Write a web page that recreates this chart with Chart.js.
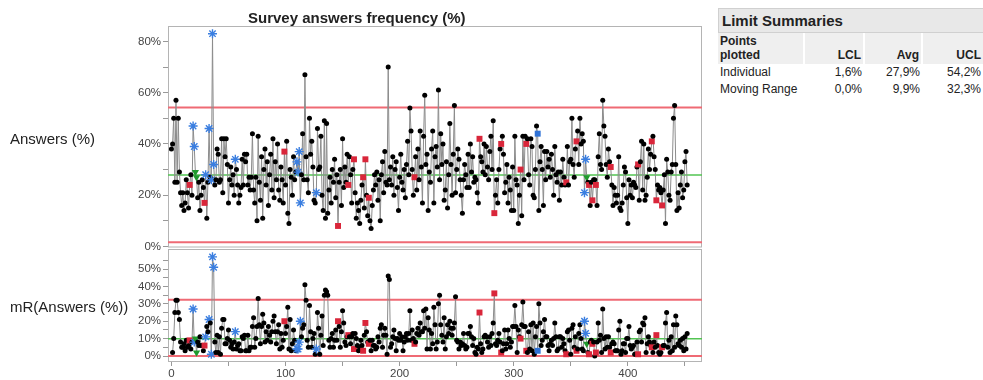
<!DOCTYPE html>
<html lang='en'>
  <head>
    <title>Survey answers frequency (%)</title>
    <meta charset='UTF-8'>
    <script src='https://cdn.jsdelivr.net/npm/chart.js@4.4.0/dist/chart.umd.min.js'></script>
    <style>
      body { margin: 0; background: #fff; font-family: 'Liberation Sans', Arial, sans-serif; color: #222; }
      #wrap { position: relative; width: 983px; height: 380px; overflow: hidden; }
      #grafico { position: absolute; left: 0; top: 0; }
      .eixo { position: absolute; left: 10px; font-size: 15px; line-height: 18px; }
      #titulo { position: absolute; left: 248px; top: 9px; font-size: 15px; font-weight: bold; }
      #resumo { position: absolute; left: 718px; top: 8px; width: 265px; }
      #resumo .cab { height: 23px; line-height: 23px; padding-left: 3px; background: #e8e8e8; border: 1px solid #d0d0d0; border-right: none; font-size: 15px; font-weight: bold; }
      #resumo table { border-collapse: collapse; table-layout: fixed; width: 265px; font-size: 12px; }
      #resumo th { background: #efefef; font-weight: bold; text-align: right; vertical-align: bottom; height: 29px; padding: 0 2px 2px 2px; border-left: 2px solid #fff; line-height: 14px; }
      #resumo th:first-child { text-align: left; border-left: none; }
      #resumo td { text-align: right; padding: 0 2px; height: 17px; line-height: 17px; }
      #resumo td:first-child { text-align: left; }
    </style>
  </head>
  <body>
    <div id='wrap'>
      <canvas id='grafico' width='710' height='380'></canvas>
      <div id='titulo'>Survey answers frequency (%)</div>
      <div class='eixo' style='top:130px'>Answers (%)</div>
      <div class='eixo' style='top:298px'>mR(Answers (%))</div>
      <div id='resumo'>
        <div class='cab'>Limit Summaries</div>
        <table>
          <colgroup><col style='width:86px'><col style='width:60px'><col style='width:58px'><col style='width:61px'></colgroup>
          <tr><th>Points<br>plotted</th><th>LCL</th><th>Avg</th><th>UCL</th></tr>
          <tr id='linhaInd'><td>Individual</td></tr>
          <tr id='linhaMR'><td>Moving Range</td></tr>
        </table>
      </div>
    </div>
    <script>
      // valores (uma linha = 10 pontos)
      const answers = [
        38, 40, 50, 25, 57, 25, 50, 29, 21, 16,
        21, 14, 17, 26, 21, 15, 24, 28, 20, 47,
        39, 29, 27, 19, 25, 14, 20, 26, 23, 17,
        28, 11, 25, 46, 27, 26, 83, 32, 24, 26,
        38, 36, 25, 26, 42, 21, 42, 35, 42, 32,
        17, 26, 31, 24, 28, 20, 34, 30, 24, 17,
        20, 23, 34, 24, 36, 33, 36, 24, 27, 22,
        27, 44, 22, 17, 27, 10, 43, 25, 18, 35,
        11, 30, 38, 24, 33, 16, 28, 36, 22, 42,
        19, 33, 26, 40, 22, 18, 31, 26, 17, 37,
        24, 41, 13, 9, 30, 27, 20, 35, 26, 29,
        33, 29, 37, 17, 28, 44, 26, 67, 35, 26,
        21, 50, 36, 41, 31, 18, 17, 21, 46, 30,
        31, 43, 20, 14, 49, 11, 48, 13, 22, 27,
        17, 30, 25, 34, 19, 28, 8, 25, 30, 16,
        42, 23, 31, 25, 36, 24, 35, 28, 17, 30,
        34, 21, 11, 17, 14, 9, 18, 24, 27, 15,
        34, 20, 12, 19, 10, 7, 16, 22, 28, 24,
        29, 18, 26, 10, 28, 33, 21, 37, 25, 24,
        70, 26, 31, 24, 35, 20, 30, 33, 23, 14,
        27, 36, 25, 22, 30, 19, 32, 41, 28, 54,
        45, 30, 20, 27, 35, 22, 38, 26, 45, 31,
        17, 43, 59, 32, 36, 14, 29, 25, 38, 45,
        17, 35, 39, 31, 61, 26, 44, 32, 40, 18,
        22, 33, 15, 28, 48, 32, 20, 36, 55, 21,
        30, 38, 34, 26, 20, 13, 26, 32, 28, 23,
        36, 23, 40, 29, 35, 25, 27, 26, 21, 17,
        42, 35, 33, 29, 40, 28, 39, 31, 26, 37,
        43, 30, 49, 13, 20, 26, 17, 30, 38, 40,
        43, 36, 21, 25, 32, 17, 27, 22, 14, 31,
        14, 43, 26, 24, 9, 20, 30, 12, 43, 26,
        43, 40, 42, 28, 24, 42, 39, 20, 19, 30,
        47, 44, 14, 33, 39, 30, 16, 37, 26, 37,
        31, 34, 27, 36, 30, 20, 39, 28, 25, 29,
        18, 29, 24, 34, 27, 24, 25, 39, 24, 33,
        34, 50, 32, 27, 38, 41, 45, 32, 50, 40,
        44, 41, 21, 34, 27, 25, 24, 16, 25, 18,
        26, 26, 24, 16, 35, 44, 32, 30, 57, 47,
        43, 32, 27, 38, 33, 31, 24, 16, 23, 20,
        17, 20, 35, 15, 14, 17, 24, 31, 29, 19,
        9, 26, 20, 24, 19, 25, 24, 23, 31, 32,
        18, 33, 41, 22, 40, 18, 20, 27, 38, 30,
        36, 41, 43, 35, 30, 18, 24, 22, 23, 21,
        16, 22, 28, 9, 34, 29, 20, 18, 29, 32,
        50, 55, 32, 14, 21, 15, 24, 29, 19, 22,
        33, 37, 24
      ];

      const movingRange = [
        null, 2, 10, 25, 32, 32, 25, 21, 8, 5,
        5, 7, 3, 9, 5, 6, 9, 4, 8, 27,
        8, 10, 2, 8, 6, 11, 6, 6, 3, 6,
        11, 17, 14, 21, 19, 1, 57, 51, 8, 2,
        12, 2, 11, 1, 16, 21, 21, 7, 7, 10,
        15, 9, 5, 7, 4, 8, 14, 4, 6, 7,
        3, 3, 11, 10, 12, 3, 3, 12, 3, 5,
        5, 17, 22, 5, 10, 17, 33, 18, 7, 17,
        24, 19, 8, 14, 9, 17, 12, 8, 14, 20,
        23, 14, 7, 14, 18, 4, 13, 5, 9, 20,
        13, 17, 28, 4, 21, 3, 7, 15, 9, 3,
        4, 4, 8, 20, 11, 16, 18, 41, 32, 9,
        5, 29, 14, 5, 10, 13, 1, 4, 25, 16,
        1, 12, 23, 6, 35, 38, 37, 35, 9, 5,
        10, 13, 5, 9, 15, 9, 20, 17, 5, 14,
        26, 19, 8, 6, 11, 12, 11, 7, 11, 13,
        4, 13, 10, 6, 3, 5, 9, 6, 3, 12,
        19, 14, 8, 7, 9, 3, 9, 6, 6, 4,
        5, 11, 8, 16, 18, 5, 12, 16, 12, 1,
        46, 44, 5, 7, 11, 15, 10, 3, 10, 9,
        13, 9, 11, 3, 8, 11, 13, 9, 13, 26,
        9, 15, 10, 7, 8, 13, 16, 12, 19, 14,
        14, 26, 16, 27, 4, 22, 15, 4, 13, 7,
        28, 18, 4, 8, 30, 35, 18, 12, 8, 22,
        4, 11, 18, 13, 20, 16, 12, 16, 19, 34,
        9, 8, 4, 8, 6, 7, 13, 6, 4, 5,
        13, 13, 17, 11, 6, 10, 2, 1, 5, 4,
        25, 7, 2, 4, 11, 12, 11, 8, 5, 11,
        6, 13, 19, 36, 7, 6, 9, 13, 8, 2,
        3, 7, 15, 4, 7, 15, 10, 5, 8, 17,
        17, 29, 17, 2, 15, 11, 10, 18, 31, 17,
        17, 3, 2, 14, 4, 18, 3, 19, 1, 11,
        17, 3, 30, 19, 6, 9, 14, 21, 11, 11,
        6, 3, 7, 9, 6, 10, 19, 11, 3, 4,
        11, 11, 5, 10, 7, 3, 1, 14, 15, 9,
        1, 16, 18, 5, 11, 3, 4, 13, 18, 10,
        4, 3, 20, 13, 7, 2, 1, 8, 9, 7,
        8, 0, 2, 8, 19, 9, 12, 2, 27, 10,
        4, 11, 5, 11, 5, 2, 7, 8, 7, 3,
        3, 3, 15, 20, 1, 3, 7, 7, 2, 10,
        10, 17, 6, 4, 5, 6, 1, 1, 8, 1,
        14, 15, 8, 19, 18, 22, 2, 7, 11, 8,
        6, 5, 2, 8, 5, 12, 6, 2, 1, 2,
        5, 6, 6, 19, 25, 5, 9, 2, 11, 3,
        18, 5, 23, 18, 7, 6, 9, 5, 10, 3,
        11, 4, 13
      ];

      const indivLimits = [1.6, 27.9, 54.2];  // LCL, Avg, UCL
      const mrLimits    = [0.0, 9.9, 32.3];

      // linhas marcadas (row states)
      const blueStarRows      = [19, 20, 30, 33, 35, 36, 37, 56, 110, 111, 112, 113, 127, 362, 363];
      const redSquareRows     = [16, 29, 99, 146, 155, 160, 168, 170, 173, 213, 270, 283, 289, 306, 311, 346, 355, 366, 369, 372, 385, 409, 421, 425, 430];
      const greenTriangleRows = [21, 22, 364];
      const blueSquareRows    = [321];

      const upperTicks = [0, 10, 20, 30, 40, 50, 60, 70, 80];
      const lowerTicks = [0, 5, 10, 15, 20, 25, 30, 35, 40, 45, 50, 55];
      const xTicks     = [0, 50, 100, 150, 200, 250, 300, 350, 400, 450];

      const fonte = "'Liberation Sans', Arial, sans-serif";
      const X_MIN = -3, X_MAX = 465;

      // tabela de limites
      function pct(v) { return v.toFixed(1).replace('.', ',') + '%'; }
      indivLimits.forEach(v => { let td = document.createElement('td'); td.textContent = pct(v); document.getElementById('linhaInd').appendChild(td); });
      mrLimits.forEach(v => { let td = document.createElement('td'); td.textContent = pct(v); document.getElementById('linhaMR').appendChild(td); });

      function estilo(i) {
        if (blueStarRows.includes(i))      return {shape: 'star',     r: 4.5, fill: '#3a7ee0', line: '#3a7ee0', w: 1.4, rot: 0};
        if (redSquareRows.includes(i))     return {shape: 'rect',     r: 4.2, fill: '#d9263a', line: '#d9263a', w: 0,   rot: 0};
        if (greenTriangleRows.includes(i)) return {shape: 'triangle', r: 4.2, fill: '#1f9a2c', line: '#1f9a2c', w: 0,   rot: 180};
        if (blueSquareRows.includes(i))    return {shape: 'rect',     r: 4.2, fill: '#2f72d6', line: '#2f72d6', w: 0,   rot: 0};
        return {shape: 'circle', r: 2.5, fill: '#000', line: '#000', w: 0, rot: 0};
      }

      function serie(valores, eixo) {
        return {
          data: valores.map((v, i) => ({x: i, y: v})),
          yAxisID: eixo,
          borderColor: '#8c8c8c',
          borderWidth: 1,
          tension: 0,
          order: 0,
          pointStyle:           c => estilo(c.dataIndex).shape,
          pointRadius:          c => estilo(c.dataIndex).r,
          pointBackgroundColor: c => estilo(c.dataIndex).fill,
          pointBorderColor:     c => estilo(c.dataIndex).line,
          pointBorderWidth:     c => estilo(c.dataIndex).w,
          pointRotation:        c => estilo(c.dataIndex).rot,
        };
      }

      function limite(valor, eixo, cor, largura) {
        return {
          data: [{x: X_MIN, y: valor}, {x: X_MAX, y: valor}],
          yAxisID: eixo, borderColor: cor, borderWidth: largura, pointRadius: 0, order: 1,
        };
      }

      // moldura de cada painel
      const molduras = {
        id: 'molduras',
        beforeDatasetsDraw(chart) {
          let c = chart.ctx, a = chart.chartArea, y1 = chart.scales.y, y2 = chart.scales.y2;
          c.save();
          c.strokeStyle = '#b4b4b4';
          c.lineWidth = 1;
          c.strokeRect(a.left + 0.5, y1.top + 0.5, a.right - a.left - 1, y1.bottom - y1.top - 1.5);
          c.strokeRect(a.left + 0.5, y2.top + 1.5, a.right - a.left - 1, y2.bottom - y2.top - 2);
          c.restore();
        }
      };

      function eixoY(ticks, min, max, peso, rotulo) {
        return {
          type: 'linear', position: 'left', stack: 'paineis', stackWeight: peso,
          min: min, max: max,
          afterBuildTicks: s => { s.ticks = ticks.map(v => ({value: v})); },
          afterFit: s => { s.width = 168; },
          ticks: { autoSkip: false, padding: 2, color: '#444', font: {family: fonte, size: 11.5}, callback: v => rotulo(v) ? v + '%' : '' },
          grid: { drawOnChartArea: false, drawTicks: true, tickLength: 5, color: '#999' },
          border: { display: false },
        };
      }

      let ctx = document.getElementById('grafico').getContext('2d');
      let myChart = new Chart(ctx, {
        type: 'line',
        data: {
          datasets: [
            serie(answers, 'y'),
            serie(movingRange, 'y2'),
            limite(indivLimits[2], 'y', '#ef6a74', 2),
            limite(indivLimits[1], 'y', '#52c452', 1.5),
            limite(indivLimits[0], 'y', '#ef6a74', 2),
            limite(mrLimits[2], 'y2', '#ef6a74', 2),
            limite(mrLimits[1], 'y2', '#52c452', 1.5),
            limite(mrLimits[0], 'y2', '#ef6a74', 2),
          ],
        },
        options: {
          responsive: false,
          animation: false,
          devicePixelRatio: 1,
          layout: { padding: {top: 26, right: 8, left: 0, bottom: 0} },
          plugins: { legend: {display: false}, tooltip: {enabled: false}, title: {display: false} },
          scales: {
            x: {
              type: 'linear', min: X_MIN, max: X_MAX,
              afterBuildTicks: s => { s.ticks = xTicks.map(v => ({value: v})); },
              afterFit: s => { s.height = 18; },
              ticks: { autoSkip: false, maxRotation: 0, padding: 1, color: '#444', font: {family: fonte, size: 11.5}, callback: v => v % 100 === 0 ? v : '' },
              grid: { drawOnChartArea: false, drawTicks: true, tickLength: 4, color: '#999' },
              border: { display: false },
            },
            // o painel de baixo vem primeiro na pilha
            y2: eixoY(lowerTicks, -3.45, 62.1, 114, v => v % 10 === 0),
            y:  eixoY(upperTicks, -0.6, 86, 222, v => v % 20 === 0),
          },
        },
        plugins: [molduras],
      });
    </script>
  </body>
</html>
